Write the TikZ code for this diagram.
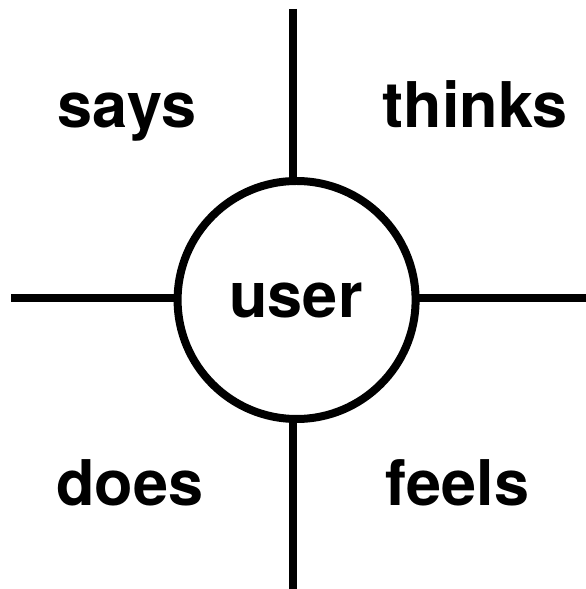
\documentclass[tikz,border=0pt]{standalone}
\usepackage{fontspec}
\setmainfont{TeX Gyre Heros}
\tikzset{
  bar/.style={line width=8pt, line cap=butt, black},
  quad/.style={anchor=base, inner sep=0pt, font=\fontsize{63}{72}\selectfont\bfseries},
  hub/.style={circle, draw=black, line width=8pt, fill=white, minimum size=238pt, inner sep=0pt}
}
\begin{document}
\begin{tikzpicture}[x=1pt,y=1pt]
\useasboundingbox (0,0) rectangle (586,589);
\coordinate (top) at (293.3,580);
\coordinate (bot) at (293.3,0);
\coordinate (lft) at (11,290.7);
\coordinate (rgt) at (586,290.7);
\draw[bar] (top) -- (bot);
\draw[bar] (lft) -- (rgt);
\node[hub] (user) at (296.6,289) {};
\node[quad] (userlbl) at (296,271) {user};
\node[quad] (says) at (127,461) {says};
\node[quad] (thinks) at (475,461) {thinks};
\node[quad] (does) at (130,83) {does};
\node[quad] (feels) at (457.5,83) {feels};
\end{tikzpicture}
\end{document}
